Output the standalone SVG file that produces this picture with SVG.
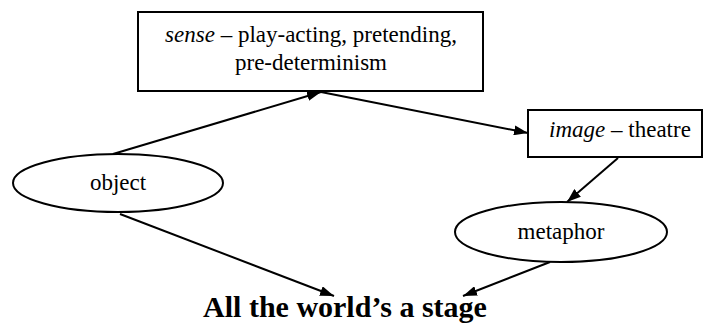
<svg xmlns="http://www.w3.org/2000/svg" width="704" height="324" viewBox="0 0 704 324" font-family="'Times New Roman','Liberation Serif',Tinos,serif">
<style>
.box{fill:#fff;stroke:#000;stroke-width:2}
.t{font-family:'Times New Roman','Liberation Serif',Tinos,serif;font-size:23px;fill:#000;text-anchor:middle}
.e{stroke:#000;stroke-width:2;fill:none;marker-end:url(#ah)}
</style>
<defs>
<marker id="ah" viewBox="0 0 14 10" refX="14" refY="5" markerWidth="14" markerHeight="10" markerUnits="userSpaceOnUse" orient="auto">
<path d="M0,0 L14,5 L0,10 z" fill="#000"/>
</marker>
</defs>
<rect width="704" height="324" fill="#fff"/>
<g id="connectors">
<line class="e" x1="113" y1="154" x2="321" y2="92"/>
<line class="e" x1="321" y1="92" x2="528" y2="133"/>
<line class="e" x1="618" y1="158" x2="567" y2="202"/>
<line class="e" x1="120" y1="214" x2="334" y2="296"/>
<line class="e" x1="550" y1="262" x2="463" y2="296"/>
</g>
<g id="sense">
<rect class="box" x="138" y="12" width="345" height="79"/>
<text class="t" x="311" y="42"><tspan font-style="italic">sense</tspan> – play-acting, pretending,</text>
<text class="t" x="311" y="70">pre-determinism</text>
</g>
<g id="image">
<rect class="box" x="528" y="110" width="174" height="47"/>
<text class="t" x="620" y="137"><tspan font-style="italic">image</tspan> – theatre</text>
</g>
<g id="object">
<ellipse class="box" cx="118" cy="183" rx="105" ry="29"/>
<text class="t" x="118" y="190">object</text>
</g>
<g id="metaphor">
<ellipse class="box" cx="561" cy="232" rx="106" ry="30"/>
<text class="t" x="561" y="239">metaphor</text>
</g>
<g id="title">
<text x="345" y="317" font-size="30" font-weight="bold" text-anchor="middle">All the world’s a stage</text>
</g>
</svg>
